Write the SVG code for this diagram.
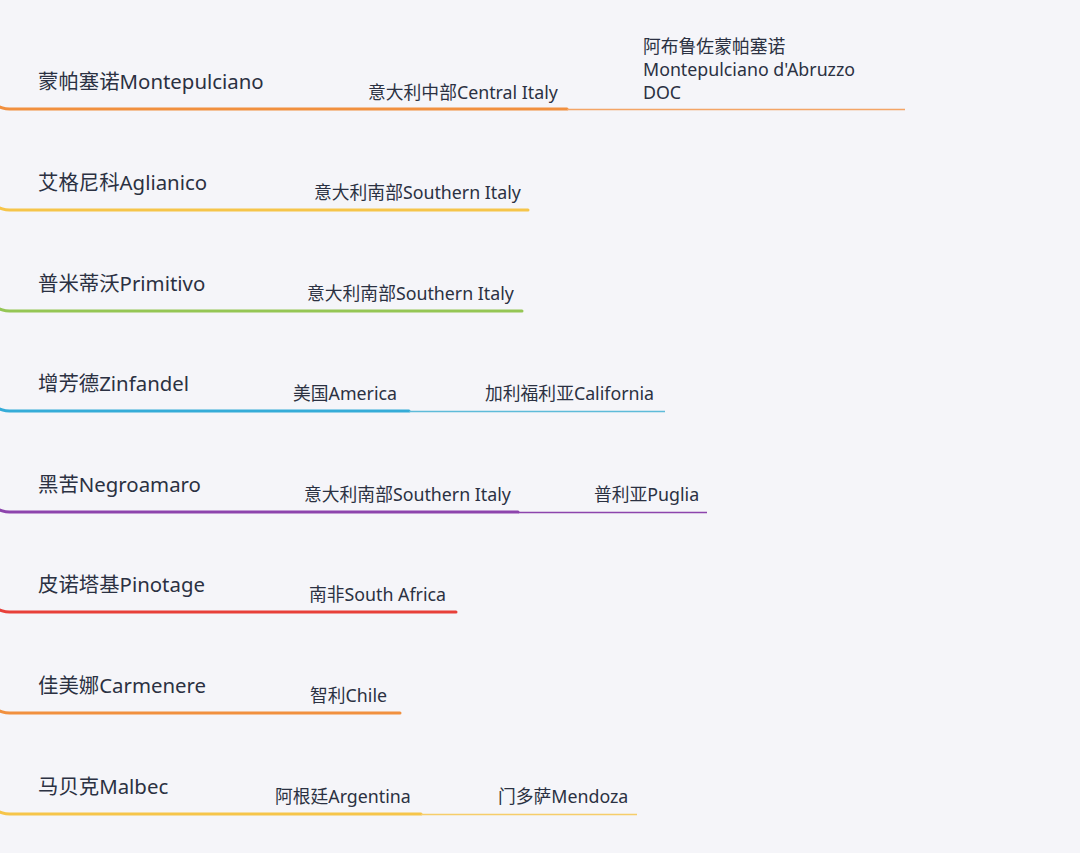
<svg xmlns="http://www.w3.org/2000/svg" width="1080" height="853" viewBox="0 0 1080 853">
<style>
.t{font-family:"Noto Sans","Noto Sans CJK SC",sans-serif;fill:#2b3142}
.w{font-size:20.4px}
.c{font-size:17.8px}
.k{fill:none;stroke-width:3;stroke-linecap:round}
.n{fill:none;stroke-width:1.5}
</style>
<rect width="1080" height="853" fill="#f5f5f9"/>
<g id="connectors">
<path class="k" stroke="#f1903f" d="M0,107 Q4,109 14,109 L567,109"/><path class="n" stroke="#f4a566" d="M567,109.5 L905,109.5"/>
<path class="k" stroke="#f6c54a" d="M0,208 Q4,210 14,210 L528,210"/>
<path class="k" stroke="#95c655" d="M0,309 Q4,311 14,311 L522,311"/>
<path class="k" stroke="#35acd8" d="M0,409 Q4,411 14,411 L409,411"/><path class="n" stroke="#5ebbd9" d="M409,411.5 L665,411.5"/>
<path class="k" stroke="#8d44ad" d="M0,510 Q4,512 14,512 L518,512"/><path class="n" stroke="#8d44ad" d="M518,512.5 L707,512.5"/>
<path class="k" stroke="#e8403a" d="M0,610 Q4,612 14,612 L456,612"/>
<path class="k" stroke="#f1903f" d="M0,711 Q4,713 14,713 L400,713"/>
<path class="k" stroke="#f6c54a" d="M0,812 Q4,814 14,814 L421,814"/><path class="n" stroke="#f6cd6a" d="M421,814.5 L637,814.5"/>
</g>
<g id="n1"><text class="t w" x="38" y="89">蒙帕塞诺Montepulciano</text></g>
<g id="n1a"><text class="t c" x="368" y="99">意大利中部Central Italy</text></g>
<g id="n1b"><text class="t c" x="643" y="53">阿布鲁佐蒙帕塞诺</text><text class="t c" x="643" y="76">Montepulciano d'Abruzzo</text><text class="t c" x="643" y="99">DOC</text></g>
<g id="n2"><text class="t w" x="38" y="190">艾格尼科Aglianico</text></g>
<g id="n2a"><text class="t c" x="314" y="199">意大利南部Southern Italy</text></g>
<g id="n3"><text class="t w" x="38" y="291">普米蒂沃Primitivo</text></g>
<g id="n3a"><text class="t c" x="307" y="300">意大利南部Southern Italy</text></g>
<g id="n4"><text class="t w" x="38" y="391">增芳德Zinfandel</text></g>
<g id="n4a"><text class="t c" x="293" y="400">美国America</text></g>
<g id="n4b"><text class="t c" x="485" y="400">加利福利亚California</text></g>
<g id="n5"><text class="t w" x="38" y="492">黑苦Negroamaro</text></g>
<g id="n5a"><text class="t c" x="304" y="501">意大利南部Southern Italy</text></g>
<g id="n5b"><text class="t c" x="594" y="501">普利亚Puglia</text></g>
<g id="n6"><text class="t w" x="38" y="592">皮诺塔基Pinotage</text></g>
<g id="n6a"><text class="t c" x="309" y="601">南非South Africa</text></g>
<g id="n7"><text class="t w" x="38" y="693">佳美娜Carmenere</text></g>
<g id="n7a"><text class="t c" x="310" y="702">智利Chile</text></g>
<g id="n8"><text class="t w" x="38" y="794">马贝克Malbec</text></g>
<g id="n8a"><text class="t c" x="275" y="803">阿根廷Argentina</text></g>
<g id="n8b"><text class="t c" x="498" y="803">门多萨Mendoza</text></g>
</svg>
